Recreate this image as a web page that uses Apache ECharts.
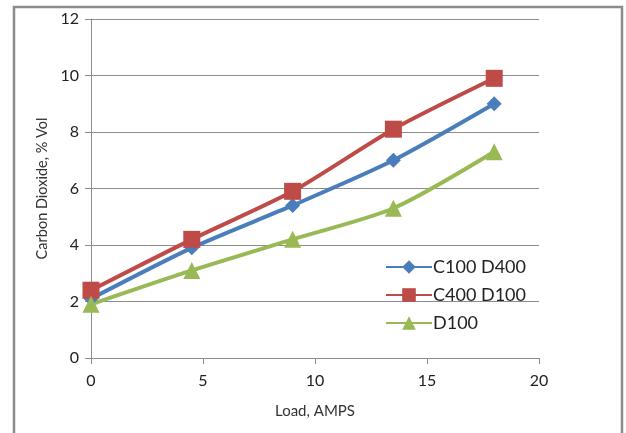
<!DOCTYPE html>
<html>
<head>
<meta charset="utf-8">
<script src="https://cdn.jsdelivr.net/npm/echarts@6/dist/echarts.min.js"></script>
<style>
  html, body { margin: 0; padding: 0; background: #fff; }
  #chart { width: 626px; height: 433px; }
</style>
</head>
<body>
<div id="chart"></div>
<script>
// Load current (A) against CO2 concentration for three fuel blends
const loadAmps = [0, 4.5, 9, 13.5, 18];
const c100d400 = [2.1, 3.9, 5.4, 7.0, 9.0];
const c400d100 = [2.4, 4.2, 5.9, 8.1, 9.9];
const d100 = [1.9, 3.1, 4.2, 5.3, 7.3];
const seriesNames = ['C100 D400', 'C400 D100', 'D100'];

const pairs = (xs, ys) => xs.map((x, i) => [x, ys[i]]);

const FONT = 'Lato, "Open Sans", sans-serif';
const chart = echarts.init(document.getElementById('chart'), null, { renderer: 'canvas' });

const lineSeries = (name, data, color, symbol, size) => ({
  name, type: 'line', data: pairs(loadAmps, data),
  smooth: 0.25,
  symbol, symbolSize: size,
  lineStyle: { color, width: 4 },
  itemStyle: { color },
  emphasis: { disabled: true },
  z: 3
});

chart.setOption({
  animation: false,
  backgroundColor: '#ffffff',
  graphic: [{
    type: 'rect',
    shape: { x: 14, y: 7, width: 608, height: 440 },
    style: { fill: 'none', stroke: '#8c8c8c', lineWidth: 2.5 },
    silent: true
  }],
  grid: { left: 91, right: 87, top: 19, bottom: 75 },
  xAxis: {
    type: 'value', min: 0, max: 20, interval: 5,
    name: 'Load, AMPS', nameLocation: 'middle', nameGap: 46,
    nameTextStyle: { fontFamily: FONT, fontSize: 15, color: '#333' },
    axisLine: { show: true, lineStyle: { color: '#8c8c8c', width: 1 } },
    axisTick: { show: true, length: 6, lineStyle: { color: '#8c8c8c' } },
    axisLabel: { fontFamily: FONT, fontSize: 16, color: '#222', margin: 15 },
    splitLine: { show: false }
  },
  yAxis: {
    type: 'value', min: 0, max: 12, interval: 2,
    name: 'Carbon Dioxide, % Vol', nameLocation: 'middle', nameGap: 38, nameRotate: 90,
    nameTextStyle: { fontFamily: FONT, fontSize: 14.5, color: '#333' },
    axisLine: { show: true, lineStyle: { color: '#8c8c8c', width: 1 } },
    axisTick: { show: true, length: 6, lineStyle: { color: '#8c8c8c' } },
    axisLabel: { fontFamily: FONT, fontSize: 16, color: '#222', margin: 12 },
    splitLine: { show: true, lineStyle: { color: '#8c8c8c', width: 1 } }
  },
  legend: {
    orient: 'vertical', left: 380, top: 253,
    itemWidth: 46, itemHeight: 17, itemGap: 10,
    data: seriesNames,
    textStyle: { fontFamily: FONT, fontSize: 18, color: '#222', padding: [0, 0, 0, -4] },
    selectedMode: false
  },
  series: [
    lineSeries(seriesNames[0], c100d400, '#4a7ebb', 'diamond', 15),
    lineSeries(seriesNames[1], c400d100, '#be4b48', 'rect', 17),
    lineSeries(seriesNames[2], d100, '#98b954', 'triangle', 17)
  ]
});
</script>
</body>
</html>
